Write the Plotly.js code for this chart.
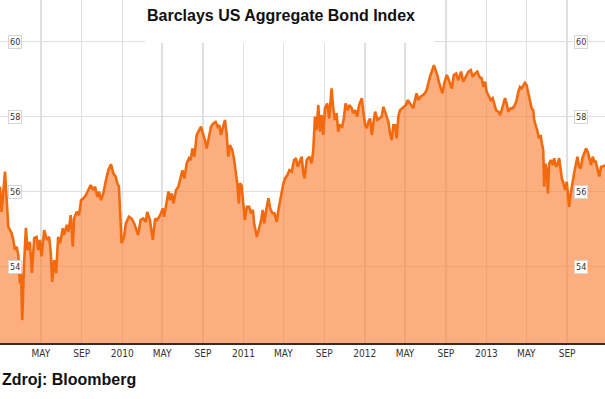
<!DOCTYPE html>
<html>
<head>
<meta charset="utf-8">
<script src="https://cdn.plot.ly/plotly-3.0.1.min.js"></script>
<style>html,body{margin:0;padding:0;background:#fff;}#chart{width:605px;height:399px;}</style>
</head>
<body>
<div id="chart"></div>
<script>
var dates = [
"2008-12-29","2009-01-03","2009-01-13","2009-01-19","2009-01-23","2009-02-02","2009-02-07","2009-02-12","2009-02-17","2009-02-22",
"2009-02-27","2009-03-02","2009-03-06","2009-03-11","2009-03-17","2009-03-22","2009-03-29","2009-04-04","2009-04-11","2009-04-18",
"2009-04-23","2009-04-28","2009-05-03","2009-05-11","2009-05-19","2009-05-26","2009-05-31","2009-06-04","2009-06-10","2009-06-16",
"2009-06-22","2009-06-28","2009-07-06","2009-07-10","2009-07-18","2009-07-23","2009-07-30","2009-08-05","2009-08-09","2009-08-17",
"2009-08-24","2009-08-30","2009-09-06","2009-09-14","2009-09-21","2009-09-28","2009-10-06","2009-10-11","2009-10-18","2009-10-23",
"2009-10-29","2009-11-05","2009-11-13","2009-11-20","2009-11-28","2009-12-05","2009-12-12","2009-12-17","2009-12-22","2009-12-25",
"2009-12-30","2010-01-06","2010-01-12","2010-01-21","2010-01-29","2010-02-06","2010-02-13","2010-02-18","2010-02-25","2010-03-05",
"2010-03-13","2010-03-17","2010-03-25","2010-04-03","2010-04-10","2010-04-16","2010-04-25","2010-05-03","2010-05-07","2010-05-13",
"2010-05-20","2010-05-25","2010-05-30","2010-06-04","2010-06-12","2010-06-19","2010-06-26","2010-07-01","2010-07-07","2010-07-14",
"2010-07-21","2010-07-26","2010-07-31","2010-08-06","2010-08-13","2010-08-20","2010-08-26","2010-09-02","2010-09-07","2010-09-12",
"2010-09-19","2010-09-25","2010-10-02","2010-10-09","2010-10-15","2010-10-20","2010-10-25","2010-10-30","2010-11-06","2010-11-11",
"2010-11-16","2010-11-21","2010-11-28","2010-12-03","2010-12-08","2010-12-13","2010-12-18","2010-12-21","2010-12-26","2010-12-31",
"2011-01-05","2011-01-11","2011-01-18","2011-01-23","2011-01-29","2011-02-02","2011-02-10","2011-02-17","2011-02-23","2011-02-28",
"2011-03-04","2011-03-12","2011-03-17","2011-03-22","2011-03-29","2011-04-04","2011-04-11","2011-04-16","2011-04-21","2011-04-26",
"2011-05-01","2011-05-06","2011-05-13","2011-05-19","2011-05-26","2011-06-02","2011-06-08","2011-06-13","2011-06-20","2011-06-25",
"2011-06-30","2011-07-04","2011-07-10","2011-07-18","2011-07-25","2011-07-30","2011-08-04","2011-08-09","2011-08-14","2011-08-19",
"2011-08-24","2011-08-29","2011-09-03","2011-09-10","2011-09-16","2011-09-23","2011-09-28","2011-10-03","2011-10-08","2011-10-13",
"2011-10-18","2011-10-25","2011-10-30","2011-11-04","2011-11-11","2011-11-15","2011-11-23","2011-11-27","2011-12-03","2011-12-09",
"2011-12-15","2011-12-23","2011-12-27","2012-01-02","2012-01-07","2012-01-12","2012-01-17","2012-01-22","2012-01-27","2012-02-01",
"2012-02-08","2012-02-14","2012-02-21","2012-02-26","2012-03-02","2012-03-07","2012-03-12","2012-03-17","2012-03-22","2012-03-27",
"2012-04-01","2012-04-06","2012-04-11","2012-04-16","2012-04-23","2012-04-29","2012-05-04","2012-05-09","2012-05-16","2012-05-21",
"2012-05-26","2012-05-31","2012-06-05","2012-06-10","2012-06-17","2012-06-23","2012-06-30","2012-07-05","2012-07-10","2012-07-15",
"2012-07-22","2012-07-27","2012-08-01","2012-08-06","2012-08-12","2012-08-17","2012-08-22","2012-08-27","2012-09-04","2012-09-08",
"2012-09-13","2012-09-19","2012-09-25","2012-10-02","2012-10-08","2012-10-17","2012-10-23","2012-10-31","2012-11-08","2012-11-15",
"2012-11-21","2012-11-28","2012-12-05","2012-12-11","2012-12-18","2012-12-23","2012-12-28","2013-01-02","2013-01-07","2013-01-14",
"2013-01-20","2013-01-25","2013-01-30","2013-02-06","2013-02-11","2013-02-16","2013-02-21","2013-02-26","2013-03-03","2013-03-08",
"2013-03-15","2013-03-21","2013-03-28","2013-04-02","2013-04-07","2013-04-12","2013-04-17","2013-04-22","2013-04-27","2013-05-02",
"2013-05-07","2013-05-12","2013-05-17","2013-05-22","2013-05-25","2013-05-29","2013-06-03","2013-06-08","2013-06-13","2013-06-17",
"2013-06-21","2013-06-24","2013-06-27","2013-07-02","2013-07-05","2013-07-09","2013-07-14","2013-07-20","2013-07-24","2013-07-30",
"2013-08-04","2013-08-08","2013-08-13","2013-08-16","2013-08-20","2013-08-26","2013-08-31","2013-09-07","2013-09-12","2013-09-17",
"2013-09-22","2013-09-27","2013-10-02","2013-10-07","2013-10-12","2013-10-17","2013-10-23","2013-10-28","2013-11-02","2013-11-07",
"2013-11-12","2013-11-17","2013-11-22","2013-11-26","2013-12-02","2013-12-07","2013-12-12","2013-12-17","2013-12-24"
];
var values = [
56.13,55.46,56.53,55.77,55.06,54.89,54.71,54.44,54.53,54.31,
53.55,53.83,52.57,53.99,55.03,54.44,54.66,53.83,54.76,54.79,
54.44,54.71,54.27,54.97,54.71,54.79,54.35,53.59,54.17,53.82,
54.79,54.62,55.02,54.84,55.11,54.93,55.37,54.53,55.28,55.46,
55.37,55.77,55.82,55.91,56.04,56.17,56.04,56.13,55.86,56.00,
55.77,55.95,56.31,56.57,56.73,56.49,56.40,56.22,56.13,55.59,
54.62,54.79,55.15,55.33,55.28,55.15,54.97,54.84,55.24,55.28,
55.19,55.46,55.25,54.71,55.28,55.24,55.37,55.55,55.33,55.64,
56.00,55.77,55.95,55.68,56.04,56.13,56.44,56.57,56.35,56.75,
56.89,56.84,57.15,56.93,57.51,57.64,57.73,57.51,57.37,57.15,
57.46,57.73,57.82,57.86,57.73,57.77,57.51,57.69,57.91,57.55,
56.93,57.24,57.11,56.89,56.57,56.22,55.68,56.22,56.17,55.59,
55.24,55.59,55.59,55.42,55.51,55.15,54.79,55.02,55.24,55.51,
55.15,55.59,55.82,55.55,55.42,55.42,55.19,55.51,55.77,55.95,
56.22,56.35,56.44,56.57,56.53,56.84,56.89,56.66,56.80,56.93,
56.49,56.35,56.84,56.93,56.75,57.11,58.00,57.64,58.31,57.60,
58.04,57.51,58.22,58.35,57.95,58.75,58.22,57.91,58.09,57.60,
57.77,57.73,57.95,58.35,58.17,58.31,58.22,58.09,58.17,58.00,
58.31,58.49,58.17,57.77,57.69,57.86,57.95,57.51,57.82,58.13,
57.91,57.95,58.00,58.26,58.13,58.04,57.86,57.55,57.37,57.77,
57.77,57.42,58.00,58.17,58.22,58.26,58.31,58.44,58.35,58.31,
58.22,58.44,58.62,58.44,58.53,58.57,58.62,58.71,58.93,59.06,
59.24,59.37,59.24,59.11,58.89,58.75,58.62,58.89,59.11,59.02,
58.90,58.75,59.11,59.15,58.97,59.20,58.93,59.06,59.20,59.24,
59.06,59.15,59.20,59.06,59.02,58.79,58.93,58.66,58.57,58.44,
58.49,58.35,58.17,58.13,58.04,58.17,58.31,58.49,58.35,58.13,
58.22,58.22,58.31,58.44,58.66,58.79,58.75,58.84,58.90,58.84,
58.62,58.40,58.22,58.17,57.91,57.77,57.64,57.42,57.51,57.29,
57.11,56.13,56.75,56.57,55.95,56.75,56.84,56.71,56.89,56.66,
56.75,56.89,56.62,56.35,56.26,56.04,56.26,55.59,55.95,56.26,
56.49,56.71,56.93,56.66,56.62,56.89,57.02,57.15,57.06,56.84,
56.71,56.93,56.80,56.80,56.62,56.40,56.66,56.66,56.71
];
var xTickVals = ["2009-05-01","2009-09-01","2010-01-01","2010-05-01","2010-09-01","2011-01-01","2011-05-01","2011-09-01","2012-01-01","2012-05-01","2012-09-01","2013-01-01","2013-05-01","2013-09-01"];
var xTickText = ["MAY","SEP","2010","MAY","SEP","2011","MAY","SEP","2012","MAY","SEP","2013","MAY","SEP"];
var yTickVals = [54, 56, 58, 60];
var chartTitle = "Barclays US Aggregate Bond Index";
var sourceText = "Zdroj: Bloomberg";

var trace = {
  x: dates, y: values, type: "scatter", mode: "lines",
  line: {color: "#f26a10", width: 2.6},
  fill: "tozeroy", fillcolor: "rgba(250,120,40,0.6)",
  hoverinfo: "skip"
};

var annotations = [];
yTickVals.forEach(function (v) {
  [0.0256, 0.9603].forEach(function (px) {
    annotations.push({
      xref: "paper", yref: "y", x: px, y: v, text: String(v), showarrow: false,
      font: {family: "Liberation Sans Narrow, DejaVu Sans Condensed, sans-serif", size: 9, color: "#333"},
      bgcolor: "#ffffff", bordercolor: "#d6d6d6", borderwidth: 1, borderpad: 1,
      xanchor: "center", yanchor: "middle"
    });
  });
});
annotations.push({
  xref: "paper", yref: "paper", x: 0.4645, y: 0.956, text: chartTitle, showarrow: false,
  xanchor: "center", yanchor: "middle",
  font: {family: "Liberation Sans, Arial, sans-serif", size: 16, weight: "bold", color: "#111"}
});
annotations.push({
  xref: "paper", yref: "paper", x: 0, y: -0.105, text: sourceText, showarrow: false,
  xanchor: "left", yanchor: "middle",
  font: {family: "Liberation Sans, Arial, sans-serif", size: 16, weight: "bold", color: "#111"}
});

var layout = {
  width: 605, height: 399,
  margin: {l: 0, r: 0, t: 0, b: 56, pad: 0},
  paper_bgcolor: "#ffffff", plot_bgcolor: "#ffffff",
  showlegend: false,
  xaxis: {
    type: "date", range: ["2008-12-29", "2013-12-24"],
    tickmode: "array", tickvals: xTickVals, ticktext: xTickText,
    showgrid: true, gridcolor: "#e0e0e0", gridwidth: 1.5,
    showline: true, linecolor: "#3a2a22", linewidth: 1.5,
    ticks: "", zeroline: false, fixedrange: true,
    tickfont: {family: "Liberation Sans Narrow, DejaVu Sans Condensed, sans-serif", size: 10, color: "#333"}
  },
  yaxis: {
    range: [51.96, 61.11], tickmode: "array", tickvals: yTickVals,
    showticklabels: false, showgrid: true, gridcolor: "#e0e0e0", gridwidth: 1.5,
    zeroline: false, showline: false, ticks: "", fixedrange: true
  },
  shapes: [{
    type: "rect", xref: "paper", yref: "paper",
    x0: 0.2397, x1: 0.7174, y0: 0.8746, y1: 1.0,
    fillcolor: "#ffffff", line: {width: 0}, layer: "above"
  }],
  annotations: annotations
};

Plotly.newPlot("chart", [trace], layout, {displayModeBar: false, staticPlot: true});
</script>
</body>
</html>
